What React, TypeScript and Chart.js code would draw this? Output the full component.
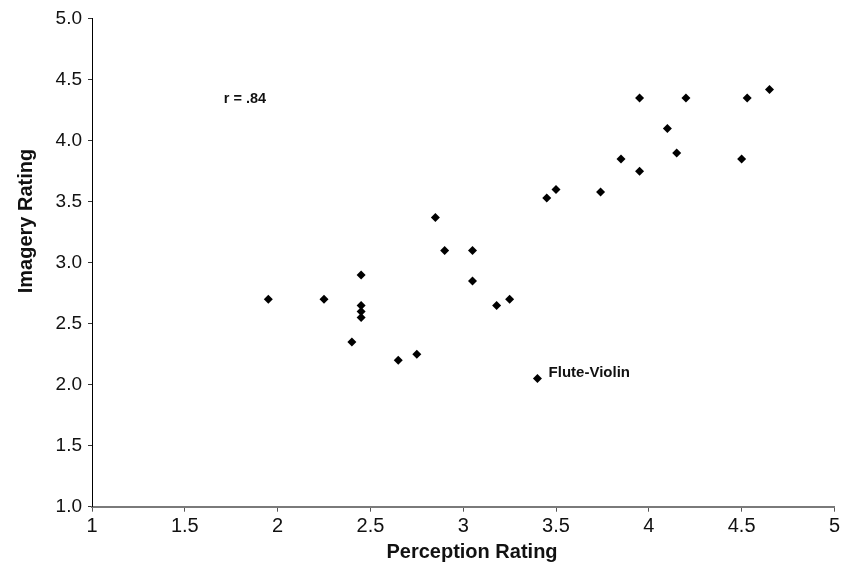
import React, { useEffect, useRef } from "react";
import { Chart, registerables } from "chart.js";

Chart.register(...registerables);

// Perception rating (x) and imagery rating (y) for each instrument pair
const perceptionX = [
  1.95, 2.25, 2.45, 2.45, 2.45, 2.45, 2.4, 2.65, 2.75, 2.85, 2.9, 3.05, 3.05, 3.18,
  3.25, 3.4, 3.45, 3.5, 3.74, 3.85, 3.95, 3.95, 4.1, 4.15, 4.2, 4.5, 4.53, 4.65,
];
const imageryY = [
  2.7, 2.7, 2.9, 2.65, 2.6, 2.55, 2.35, 2.2, 2.25, 3.37, 3.1, 3.1, 2.85, 2.65,
  2.7, 2.05, 3.53, 3.6, 3.58, 3.85, 3.75, 4.35, 4.1, 3.9, 4.35, 3.85, 4.35, 4.42,
];

const xTitle = "Perception Rating";
const yTitle = "Imagery Rating";

// Text annotations placed in data coordinates
const noteTexts = ["r = .84", "Flute-Violin"];
const noteX = [1.71, 3.46];
const noteY = [4.34, 2.1];

const FONT = "'Liberation Sans', Arial, Helvetica, sans-serif";

const textPlugin = {
  id: "textPlugin",
  afterDraw(chart: any) {
    const ctx = chart.ctx;
    const xs = chart.scales.x;
    const ys = chart.scales.y;
    ctx.save();
    ctx.fillStyle = "#111";
    // annotations
    ctx.textAlign = "left";
    ctx.textBaseline = "middle";
    noteTexts.forEach((t, i) => {
      ctx.font = `bold ${i === 0 ? 14.5 : 15}px ${FONT}`;
      ctx.fillText(t, xs.getPixelForValue(noteX[i]), ys.getPixelForValue(noteY[i]));
    });
    // x title
    ctx.font = `bold 20px ${FONT}`;
    ctx.textAlign = "center";
    ctx.textBaseline = "alphabetic";
    ctx.fillText(xTitle, 472, 558);
    // y title
    ctx.translate(32, 221);
    ctx.rotate(-Math.PI / 2);
    ctx.font = `bold 20px ${FONT}`;
    ctx.fillText(yTitle, 0, 0);
    ctx.restore();
  },
};

export default function App() {
  const ref = useRef<HTMLCanvasElement>(null);
  useEffect(() => {
    if (!ref.current) return;
    const chart = new Chart(ref.current, {
      type: "scatter",
      data: {
        datasets: [
          {
            data: perceptionX.map((x, i) => ({ x, y: imageryY[i] })),
            backgroundColor: "#000",
            borderWidth: 0,
            pointStyle: "rectRot",
            pointRadius: 4.5,
          },
        ],
      },
      options: {
        animation: false,
        responsive: true,
        maintainAspectRatio: false,
        layout: { padding: { left: 0, top: 18.7, right: 6.3, bottom: 0 } },
        plugins: { legend: { display: false }, tooltip: { enabled: false } },
        scales: {
          x: {
            type: "linear",
            min: 1,
            max: 5,
            afterFit: (s: any) => {
              s.height = 61.3;
            },
            ticks: {
              stepSize: 0.5,
              color: "#111",
              font: { family: FONT, size: 20 },
              padding: 3,
              maxRotation: 0,
              autoSkip: false,
              callback: (v: any) => String(Math.round(Number(v) * 10) / 10),
            },
            grid: {
              drawOnChartArea: false,
              drawTicks: true,
              tickLength: 5,
              color: "#555",
            },
            border: { color: "#7a7a7a", width: 2 },
          },
          y: {
            type: "linear",
            min: 1,
            max: 5,
            afterFit: (s: any) => {
              s.width = 92;
            },
            ticks: {
              stepSize: 0.5,
              color: "#111",
              font: { family: FONT, size: 19 },
              padding: 6,
              callback: (v: any) => Number(v).toFixed(1),
            },
            grid: {
              drawOnChartArea: false,
              drawTicks: true,
              tickLength: 4,
              color: "#333",
            },
            border: { color: "#000", width: 1 },
          },
        },
      },
      plugins: [textPlugin],
    });
    return () => chart.destroy();
  }, []);
  return (
    <div style={{ position: "fixed", left: 0, top: 0, width: 843, height: 568, background: "#fff" }}>
      <canvas ref={ref} />
    </div>
  );
}
